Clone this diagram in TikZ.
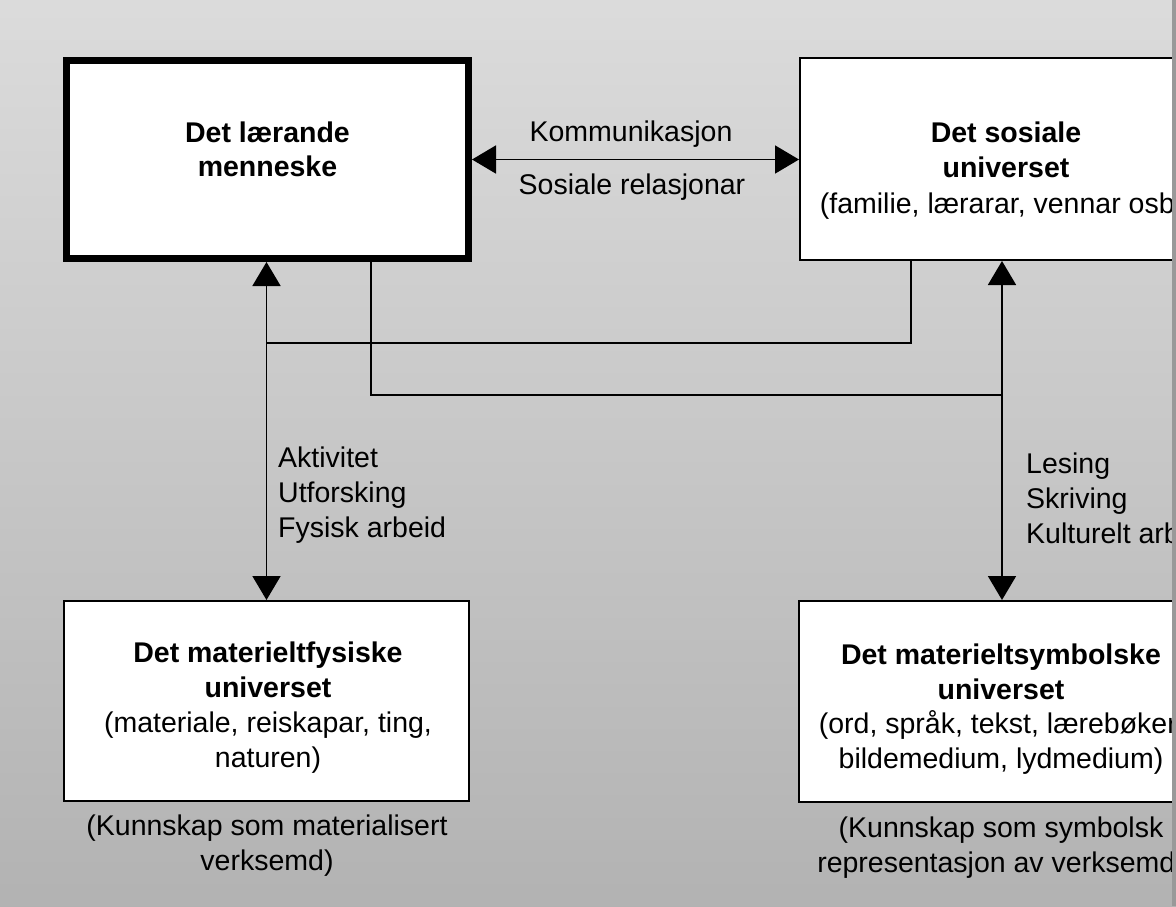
\documentclass[tikz,border=0pt]{standalone}
\usepackage{fontspec}
\setmainfont{Liberation Sans}
\usetikzlibrary{arrows.meta}
\begin{document}
\begin{tikzpicture}[x=1pt,y=-1pt,
  every node/.style={font=\fontsize{28.5}{35}\selectfont},
  box/.style={draw=black, fill=white, line width=2pt, inner sep=0pt, rectangle},
  txt/.style={align=center, inner sep=0pt, anchor=base},
  lbl/.style={align=left, inner sep=0pt, anchor=base west},
  conn/.style={line width=1.8pt},
  dbl/.style={conn, {Triangle[length=24pt,width=28pt]}-{Triangle[length=24pt,width=28pt]}}
]
\useasboundingbox (0,0) rectangle (1176,906);
\clip (0,0) rectangle (1176,906);
\shade[top color=black!14, bottom color=black!30] (0,0) rectangle (1176,906);

% boxes
\node[box, line width=7pt, minimum width=402pt, minimum height=198pt] (learner) at (267.5,159.5) {};
\node[box, minimum width=412pt, minimum height=202pt] (social) at (1006,159) {};
\node[box, minimum width=405pt, minimum height=200pt] (phys) at (266.5,701) {};
\node[box, minimum width=406pt, minimum height=201pt] (symb) at (1002,701.5) {};

% box texts (anchor base = baseline of the last line)
\node[txt, font=\bfseries\fontsize{28.5}{34}\selectfont] (learnerT) at (267.5,176) {Det lærande\\menneske};
\node[txt, font=\fontsize{28.5}{35.5}\selectfont] (socialT) at (1006,213) {\textbf{Det sosiale}\\\textbf{universet}\\(familie, lærarar, vennar osb.)};
\node[txt] (physT) at (268,767) {\textbf{Det materieltfysiske}\\\textbf{universet}\\(materiale, reiskapar, ting,\\naturen)};
\node[txt, font=\fontsize{28.5}{34.5}\selectfont] (symbT) at (1001,768) {\textbf{Det materieltsymbolske}\\\textbf{universet}\\(ord, språk, tekst, lærebøker,\\bildemedium, lydmedium)};

% connectors
\draw[dbl] (learner.east) -- (learner.east -| social.west);
\draw[dbl] (learner.south -| phys.north) -- (phys.north);
\draw[dbl] (social.south -| symb.north) -- (symb.north);
\coordinate (jl) at (266.5,343);
\coordinate (jr) at (1002,395);
\draw[conn] (social.south -| 911,0) |- (jl);
\draw[conn] (learner.south -| 371,0) |- (jr);

% labels
\node[txt] (komm) at (631,141) {Kommunikasjon};
\node[txt] (sosrel) at (632,194) {Sosiale relasjonar};
\node[lbl] (akt) at (278,537) {Aktivitet\\Utforsking\\Fysisk arbeid};
\node[lbl] (les) at (1026,543) {Lesing\\Skriving\\Kulturelt arbeid};
\node[txt] (k1) at (267,870) {(Kunnskap som materialisert\\verksemd)};
\node[txt] (k2) at (1001,872) {(Kunnskap som symbolsk\\representasjon av verksemd)};

% page edge
\fill[black!40] (1172,0) rectangle (1176,906);
\end{tikzpicture}
\end{document}
